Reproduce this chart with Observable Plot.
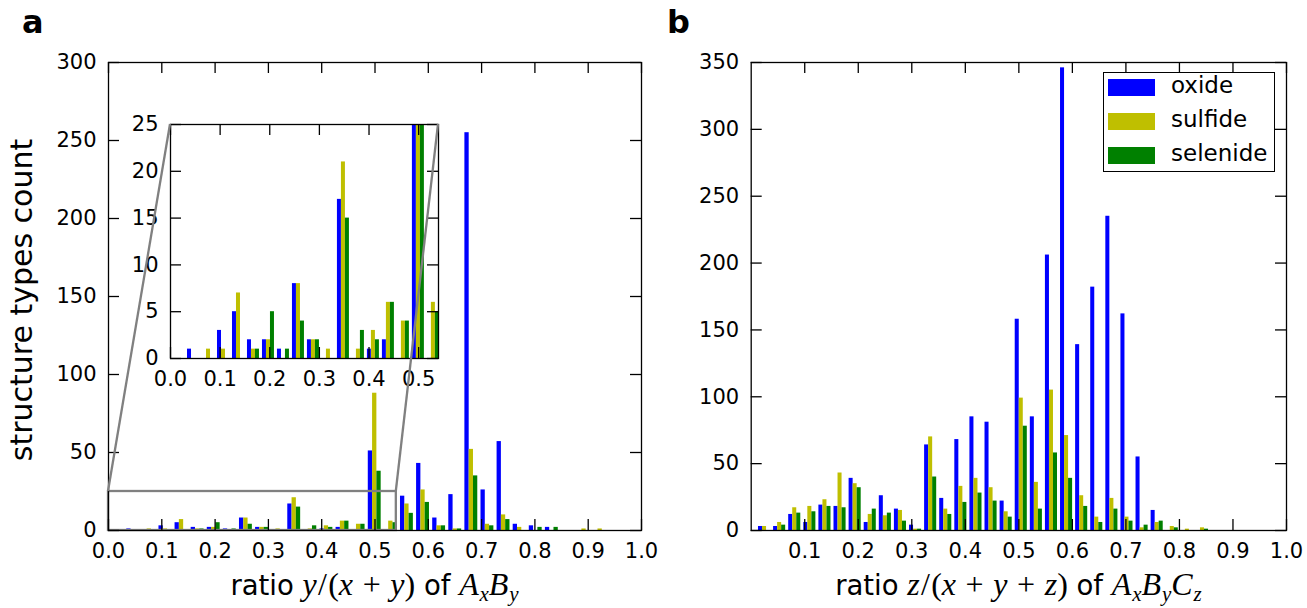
<!DOCTYPE html>
<html><head><meta charset="utf-8">
<script src="https://cdn.jsdelivr.net/npm/d3@7"></script>
<script src="https://cdn.jsdelivr.net/npm/@observablehq/plot@0.6"></script>
<style>
body{margin:0;background:#fff;}
#fig{position:relative;width:1307px;height:608px;overflow:hidden;font-family:"DejaVu Sans",sans-serif;color:#000;background:#fff;}
.abs{position:absolute;}
.panel-label{font-weight:bold;font-size:32px;line-height:1;}
.xlabel{font-size:27.5px;white-space:nowrap;transform:translateX(-50%);line-height:1;}
.m{font-family:"Liberation Serif","DejaVu Serif",serif;font-size:32px;}
.m i{font-style:italic;}
.m .op{margin:0 0.3em;}
.m .sl{margin:0 0.04em;}
.m sub{font-size:21px;vertical-align:-6px;line-height:0;margin-left:0.04em;}
.ylabel{font-size:30px;white-space:nowrap;transform:translate(-50%,-50%) rotate(-90deg);line-height:1;}
.legend{border:1.3px solid #000;background:#fff;box-sizing:border-box;}
.legend .row{position:absolute;left:4px;height:17px;}
.legend .sw{position:absolute;left:0;top:0;width:47px;height:17px;}
.legend .tx{position:absolute;left:63px;top:-5px;font-size:23px;line-height:1;white-space:nowrap;}
</style>
</head><body>
<div id="fig"></div>
<script>
// ---------------- data ----------------
const seriesNames = ["oxide", "sulfide", "selenide"];
const seriesColors = ["#0000ff", "#bfbf00", "#008000"];

// panel a: histogram of y/(x+y), 30 bins from 1/32 to 15/16
const binsA = {start: 1 / 32, end: 15 / 16, n: 30};
const oxideA    = [1,0,3,5,2,2,1,8,2,0,17,0,1,2,0,51,0,22,43,8,23,255,26,57,4,3,2,0,0,0];
const sulfideA  = [0,1,1,7,1,2,0,8,2,1,21,1,3,6,4,88,6,17,26,3,1,52,4,10,2,0,0,0,1,1];
const selenideA = [0,0,0,0,1,5,1,4,2,0,15,3,2,6,4,38,5,11,18,3,1,35,3,7,0,2,2,0,0,0];

// panel b: histogram of z/(x+y+z), 30 bins from ~0.0108 to 6/7
const binsB = {start: 0.0108, end: 6 / 7, n: 30};
const oxideB    = [3,3,12,6,19,18,39,6,26,16,4,64,24,68,85,81,22,158,85,206,346,139,182,235,162,55,15,0,0,0];
const sulfideB  = [3,6,17,18,23,43,35,12,11,15,1,70,16,33,39,32,14,99,36,105,71,26,10,24,10,2,6,3,1,2];
const selenideB = [0,4,13,14,18,17,32,16,13,7,1,40,12,21,28,22,10,78,16,58,39,18,6,16,7,4,7,2,0,1];

// ticks
const xTicksA = [0,0.1,0.2,0.3,0.4,0.5,0.6,0.7,0.8,0.9,1.0];
const yTicksA = [0,50,100,150,200,250,300];
const xTicksB = [0.1,0.2,0.3,0.4,0.5,0.6,0.7,0.8,0.9,1.0];
const yTicksB = [0,50,100,150,200,250,300,350];
const insetX = [0, 0.54];
const insetY = [0, 25];
const xTicksInset = [0,0.1,0.2,0.3,0.4,0.5];
const yTicksInset = [0,5,10,15,20,25];

// ---------------- helpers ----------------
// matplotlib-like side-by-side histogram bars (80% of bin width shared by the series)
function histRows(bins, seriesCounts) {
  const w = (bins.end - bins.start) / bins.n;
  const bw = w * 0.8 / seriesCounts.length;
  const rows = [];
  seriesCounts.forEach((counts, s) => {
    counts.forEach((c, k) => {
      if (c <= 0) return;
      const x1 = bins.start + k * w + w * 0.1 + s * bw;
      rows.push({series: seriesNames[s], x1, x2: x1 + bw, count: c});
    });
  });
  return rows;
}

const TICK = 11;
function axesMarks(xTicks, yTicks, plotW, plotH, fs, fmtX) {
  return [
    Plot.ruleX(xTicks, {x: d => d, insetTop: plotH - TICK, stroke: "#000", strokeWidth: 1.3}),
    Plot.ruleX(xTicks, {x: d => d, insetBottom: plotH - TICK, stroke: "#000", strokeWidth: 1.3}),
    Plot.ruleY(yTicks, {y: d => d, insetRight: plotW - TICK, stroke: "#000", strokeWidth: 1.3}),
    Plot.ruleY(yTicks, {y: d => d, insetLeft: plotW - TICK, stroke: "#000", strokeWidth: 1.3}),
    Plot.frame({stroke: "#000", strokeWidth: 1.3}),
    Plot.axisX(xTicks, {tickSize: 0, tickPadding: 13, tickFormat: fmtX, fontSize: fs, label: null, fill: "#000"}),
    Plot.axisY(yTicks, {tickSize: 0, tickPadding: 12, tickFormat: d3.format("d"), fontSize: fs, label: null, fill: "#000"})
  ];
}
const colorScale = {domain: seriesNames, range: seriesColors};
const baseStyle = {fontFamily: "DejaVu Sans", background: "transparent", overflow: "visible", position: "absolute"};

const fig = document.getElementById("fig");

// ---------------- panel a ----------------
const A = {left: 0, width: 660, mL: 108, mR: 19, mT: 62, mB: 78, height: 608};
const aPW = A.width - A.mL - A.mR, aPH = A.height - A.mT - A.mB;
const rowsA = histRows(binsA, [oxideA, sulfideA, selenideA]);
const plotA = Plot.plot({
  width: A.width, height: A.height,
  marginLeft: A.mL, marginRight: A.mR, marginTop: A.mT, marginBottom: A.mB,
  style: {...baseStyle, left: A.left + "px", top: "0px"},
  x: {domain: [0, 1]},
  y: {domain: [0, 300]},
  color: colorScale,
  marks: [
    Plot.rectY(rowsA, {x1: "x1", x2: "x2", y: "count", fill: "series"}),
    Plot.rect([0], {x1: insetX[0], x2: insetX[1], y1: insetY[0], y2: insetY[1], fill: "none", stroke: "#808080", strokeWidth: 2.3}),
    ...axesMarks(xTicksA, yTicksA, aPW, aPH, 21, d3.format(".1f"))
  ]
});
fig.appendChild(plotA);

// ---------------- inset ----------------
const I = {fx: 170, fy: 124, fw: 268, fh: 234, mL: 50, mR: 10, mT: 10, mB: 42};
const plotI = Plot.plot({
  width: I.fw + I.mL + I.mR, height: I.fh + I.mT + I.mB,
  marginLeft: I.mL, marginRight: I.mR, marginTop: I.mT, marginBottom: I.mB,
  style: {...baseStyle, left: (I.fx - I.mL) + "px", top: (I.fy - I.mT) + "px"},
  x: {domain: insetX},
  y: {domain: insetY},
  color: colorScale,
  marks: [
    Plot.rectY(rowsA, {x1: "x1", x2: "x2", y: "count", fill: "series", clip: true}),
    ...axesMarks(xTicksInset, yTicksInset, I.fw, I.fh, 21, d3.format(".1f"))
  ]
});
fig.appendChild(plotI);

// ---------------- panel b ----------------
const B = {left: 650, width: 657, mL: 100.7, mR: 21, mT: 62, mB: 78, height: 608};
const bPW = B.width - B.mL - B.mR, bPH = B.height - B.mT - B.mB;
const rowsB = histRows(binsB, [oxideB, sulfideB, selenideB]);
const plotB = Plot.plot({
  width: B.width, height: B.height,
  marginLeft: B.mL, marginRight: B.mR, marginTop: B.mT, marginBottom: B.mB,
  style: {...baseStyle, left: B.left + "px", top: "0px"},
  x: {domain: [0, 1]},
  y: {domain: [0, 350]},
  color: colorScale,
  marks: [
    Plot.rectY(rowsB, {x1: "x1", x2: "x2", y: "count", fill: "series"}),
    ...axesMarks(xTicksB, yTicksB, bPW, bPH, 21, d3.format(".1f"))
  ]
});
fig.appendChild(plotB);

// ---------------- inset connectors (on top) ----------------
const xA = d3.scaleLinear([0, 1], [A.left + A.mL, A.left + A.width - A.mR]);
const yA = d3.scaleLinear([0, 300], [A.height - A.mB, A.mT]);
const over = d3.select(fig).append("svg")
  .attr("width", 1307).attr("height", 608)
  .style("position", "absolute").style("left", "0px").style("top", "0px").style("pointer-events", "none");
[[insetX[0], I.fx], [insetX[1], I.fx + I.fw]].forEach(([xv, px]) => {
  over.append("line")
    .attr("x1", xA(xv)).attr("y1", yA(insetY[1]))
    .attr("x2", px).attr("y2", I.fy)
    .attr("stroke", "#808080").attr("stroke-width", 2.3);
});

// ---------------- texts ----------------
function addDiv(cls, html, css) {
  const d = document.createElement("div");
  d.className = "abs " + cls;
  d.innerHTML = html;
  Object.assign(d.style, css);
  fig.appendChild(d);
  return d;
}
const plus = '<span class="op">+</span>';
const sl = '<span class="sl">/</span>';
addDiv("panel-label", "a", {left: "22px", top: "6px"});
addDiv("panel-label", "b", {left: "667px", top: "6px"});
addDiv("ylabel", "structure types count", {left: "22px", top: "300px"});
addDiv("xlabel", `ratio <span class="m"><i>y</i>${sl}(<i>x</i>${plus}<i>y</i>)</span> of <span class="m"><i>A</i><sub><i>x</i></sub><i>B</i><sub><i>y</i></sub></span>`,
  {left: (A.left + A.mL + aPW / 2) + "px", top: "568px"});
addDiv("xlabel", `ratio <span class="m"><i>z</i>${sl}(<i>x</i>${plus}<i>y</i>${plus}<i>z</i>)</span> of <span class="m"><i>A</i><sub><i>x</i></sub><i>B</i><sub><i>y</i></sub><i>C</i><sub><i>z</i></sub></span>`,
  {left: (B.left + B.mL + bPW / 2) + "px", top: "568px"});

// legend
const leg = addDiv("legend", "", {left: "1103px", top: "72px", width: "172px", height: "100px"});
seriesNames.forEach((name, i) => {
  const r = document.createElement("div");
  r.className = "row";
  r.style.top = (6 + i * 34) + "px";
  r.innerHTML = `<div class="sw" style="background:${seriesColors[i]}"></div><div class="tx">${name}</div>`;
  leg.appendChild(r);
});
</script>
</body></html>
